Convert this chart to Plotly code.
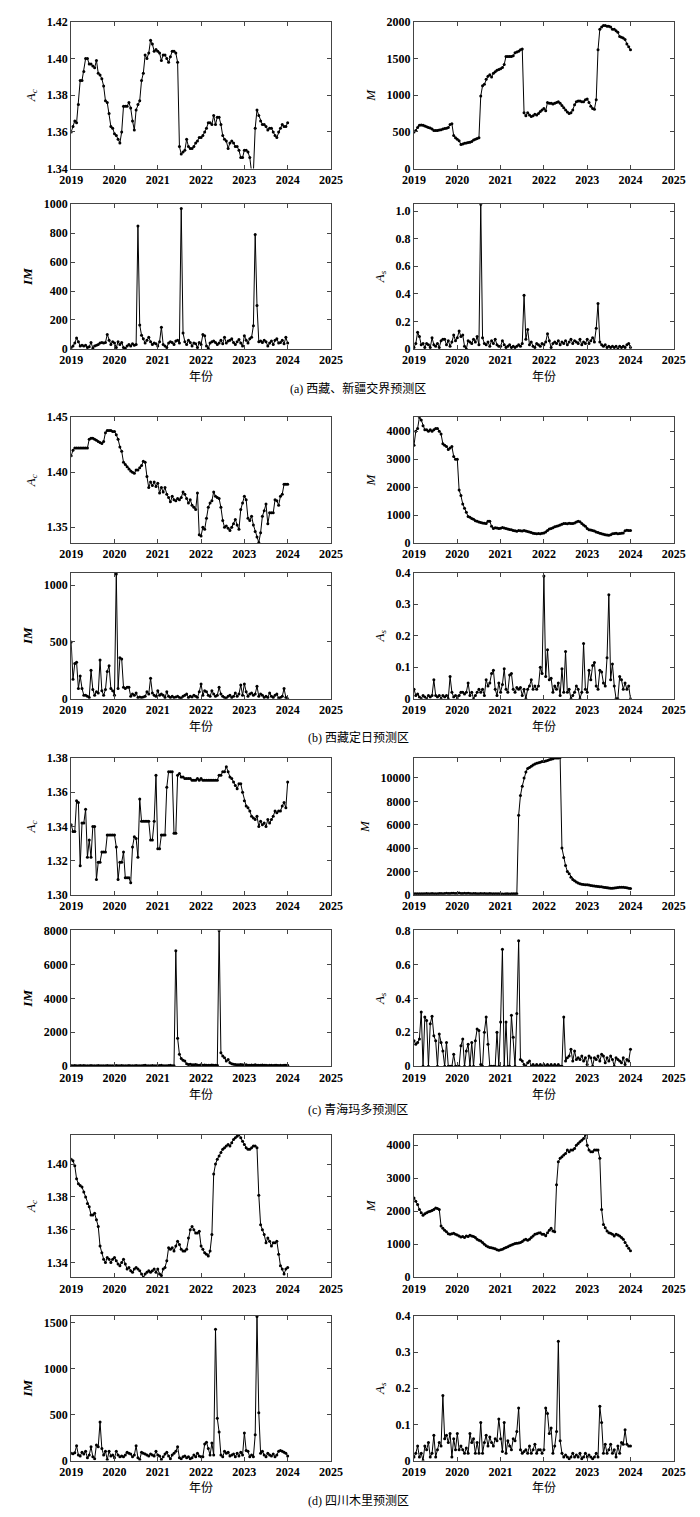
import plotly.graph_objects as go

# sampling grid: twice a month, 2019.0 .. 2024.0
t = [2019 + i / 24 for i in range(121)]

year_ticks = [2019, 2020, 2021, 2022, 2023, 2024, 2025]
year_text = ["2019", "2020", "2021", "2022", "2023", "2024", "2025"]

# ---------------- (a) 西藏、新疆交界预测区 ----------------
a_ac = [1.360, 1.363, 1.366, 1.365, 1.375, 1.388, 1.388, 1.393, 1.400, 1.400, 1.397, 1.397,
        1.396, 1.395, 1.399, 1.392, 1.391, 1.389, 1.385, 1.377, 1.376, 1.370, 1.363, 1.362,
        1.359, 1.358, 1.356, 1.354, 1.360, 1.374, 1.374, 1.374, 1.376, 1.373, 1.366, 1.361,
        1.372, 1.375, 1.377, 1.388, 1.392, 1.402, 1.400, 1.403, 1.410, 1.408, 1.404, 1.405,
        1.404, 1.403, 1.399, 1.402, 1.402, 1.400, 1.398, 1.401, 1.404, 1.404, 1.403, 1.398,
        1.352, 1.348, 1.349, 1.350, 1.356, 1.352, 1.351, 1.351, 1.352, 1.354, 1.355, 1.357,
        1.357, 1.358, 1.360, 1.362, 1.365, 1.365, 1.364, 1.369, 1.364, 1.368, 1.368, 1.364,
        1.358, 1.356, 1.355, 1.351, 1.354, 1.355, 1.354, 1.352, 1.352, 1.350, 1.346, 1.346,
        1.350, 1.350, 1.349, 1.346, 1.338, 1.338, 1.362, 1.372, 1.369, 1.366, 1.364, 1.364,
        1.363, 1.361, 1.362, 1.362, 1.360, 1.358, 1.357, 1.360, 1.362, 1.364, 1.363, 1.363,
        1.365]
a_m = [500, 520, 560, 590, 595, 590, 580, 570, 560, 555, 540, 520,
       520, 520, 525, 530, 540, 545, 550, 560, 600, 610, 450, 420,
       400, 380, 330, 335, 345, 350, 355, 360, 370, 390, 400, 410,
       420, 990, 1130, 1150, 1220, 1260, 1280, 1250, 1300, 1320, 1340, 1350,
       1360, 1380, 1420, 1530, 1530, 1530, 1530, 1540, 1580, 1590, 1600, 1620,
       1630, 760, 720, 760, 730, 710, 720, 740, 730, 750, 780, 800,
       820, 790, 900, 890, 890, 880, 890, 900, 910, 890, 860, 830,
       800, 770, 750, 760, 800, 870, 910, 920, 920, 910, 910, 940,
       950, 900, 850, 820, 810, 940, 1620, 1900, 1930, 1950, 1950, 1940,
       1940, 1930, 1900, 1900, 1880, 1860, 1800, 1790, 1780, 1760, 1700, 1660,
       1620]
a_im = [10, 20, 40, 75, 50, 20, 25, 20, 25, 10, 15, 45,
        5, 20, 25, 30, 40, 45, 40, 45, 100, 60, 30, 50,
        40, 10, 50, 30, 45, 10, 5, 20, 30, 20, 35, 25,
        30, 850, 165, 95, 70, 40, 60, 80, 50, 30, 40, 35,
        20, 50, 150, 30, 20, 10, 40, 50, 45, 30, 55, 60,
        40, 970, 110, 50, 30, 60, 45, 20, 40, 35, 10, 45,
        30, 100, 90, 20, 5, 40, 50, 55, 45, 30, 40, 60,
        35, 80, 40, 55, 60, 70, 45, 30, 50, 65, 40, 20,
        90, 60, 40, 70, 80, 160, 790, 300, 50, 55, 45, 60,
        50, 20, 40, 55, 30, 60, 70, 40, 45, 60, 35, 80,
        40]
a_as = [0.01, 0.04, 0.12, 0.09, 0.03, 0.04, 0.01, 0.04, 0.03, 0.01, 0.08, 0.03,
        0.02, 0.04, 0.01, 0.06, 0.07, 0.07, 0.03, 0.06, 0.02, 0.05, 0.10, 0.06,
        0.08, 0.13, 0.09, 0.10, 0.02, 0.00, 0.06, 0.05, 0.04, 0.07, 0.05, 0.09,
        0.03, 1.05, 0.08, 0.04, 0.03, 0.05, 0.02, 0.06, 0.04, 0.07, 0.03, 0.02,
        0.02, 0.06, 0.03, 0.01, 0.02, 0.03, 0.01, 0.02, 0.01, 0.02, 0.03, 0.02,
        0.04, 0.39, 0.07, 0.14, 0.03, 0.05, 0.02, 0.01, 0.04, 0.03, 0.02, 0.04,
        0.03, 0.05, 0.11, 0.06, 0.01, 0.04, 0.05, 0.04, 0.06, 0.03, 0.05, 0.04,
        0.06, 0.03, 0.05, 0.07, 0.04, 0.06, 0.05, 0.04, 0.07, 0.03, 0.05, 0.04,
        0.07, 0.04, 0.06, 0.08, 0.05, 0.15, 0.33, 0.05, 0.03, 0.02, 0.03, 0.01,
        0.02, 0.01, 0.02, 0.01, 0.02, 0.00, 0.02, 0.01, 0.02, 0.01, 0.03, 0.04,
        0.01]

# ---------------- (b) 西藏定日预测区 ----------------
b_ac = [1.415, 1.420, 1.422, 1.422, 1.422, 1.422, 1.422, 1.422, 1.422, 1.422, 1.430, 1.431,
        1.431, 1.430, 1.429, 1.428, 1.427, 1.426, 1.428, 1.436, 1.438, 1.438, 1.438, 1.437,
        1.437, 1.434, 1.430, 1.423, 1.419, 1.409, 1.407, 1.405, 1.403, 1.401, 1.400, 1.399,
        1.402, 1.402, 1.404, 1.406, 1.410, 1.409, 1.396, 1.386, 1.391, 1.388, 1.391, 1.387,
        1.390, 1.381, 1.386, 1.382, 1.386, 1.380, 1.377, 1.373, 1.378, 1.375, 1.374, 1.376,
        1.375, 1.377, 1.382, 1.380, 1.376, 1.372, 1.375, 1.370, 1.368, 1.366, 1.381, 1.343,
        1.342, 1.350, 1.348, 1.358, 1.368, 1.372, 1.374, 1.382, 1.378, 1.377, 1.376, 1.368,
        1.356, 1.350, 1.351, 1.349, 1.347, 1.350, 1.353, 1.357, 1.352, 1.348, 1.366, 1.372,
        1.378, 1.375, 1.358, 1.356, 1.360, 1.352, 1.346, 1.341, 1.336, 1.345, 1.360, 1.365,
        1.371, 1.353, 1.363, 1.363, 1.363, 1.375, 1.374, 1.370, 1.378, 1.380, 1.389, 1.389,
        1.389]
b_m = [3500, 4000, 4100, 4500, 4400, 4200, 4050, 4050, 4000, 4050, 4000, 4050,
       4100, 4100, 4000, 3900, 3550, 3500, 3450, 3350, 3400, 3450, 3100, 3000,
       3000, 1900, 1700, 1400, 1250, 1100, 950, 920, 880, 850, 800, 780,
       750, 740, 720, 710, 700, 780, 780, 600, 520, 550, 540, 520,
       530, 560, 540, 520, 500, 490, 480, 450, 440, 420, 450, 440,
       430, 450, 430, 410, 400, 380, 350, 340, 330, 340, 330, 350,
       360, 400, 450, 500, 520, 550, 580, 600, 620, 650, 670, 700,
       700, 690, 710, 700, 700, 720, 750, 780, 760, 700, 650, 600,
       520, 480, 470, 450, 430, 400, 380, 350, 330, 320, 300, 290,
       280, 300, 330, 340, 350, 330, 340, 350, 360, 440, 460, 450,
       450]
b_im = [500, 170, 310, 320, 90, 200, 90, 30, 30, 20, 10, 250,
        80, 30, 60, 50, 340, 70, 30, 80, 240, 290, 90, 70,
        30, 1100, 90, 360, 350, 100, 90, 100, 100, 20, 40, 30,
        50, 10, 15, 10, 15, 20, 60, 40, 180, 50, 30, 20,
        70, 30, 40, 30, 10, 60, 20, 10, 20, 10, 15, 20,
        10, 5, 20, 30, 40, 10, 20, 15, 30, 20, 10, 60,
        130, 30, 70, 60, 30, 20, 70, 40, 20, 30, 100, 40,
        20, 10, 5, 20, 30, 10, 20, 50, 20, 40, 120, 30,
        130, 60, 20, 40, 50, 30, 40, 110, 20, 40, 30, 10,
        20, 10, 50, 20, 10, 30, 40, 5, 10, 20, 90, 10,
        0]
b_as = [0.03, 0.01, 0.015, 0.005, 0.00, 0.01, 0.005, 0.00, 0.01, 0.005, 0.01, 0.06,
        0.01, 0.005, 0.01, 0.00, 0.01, 0.005, 0.01, 0.00, 0.07, 0.02, 0.005, 0.01,
        0.00, 0.01, 0.02, 0.02, 0.015, 0.02, 0.05, 0.01, 0.02, 0.00, 0.01, 0.02,
        0.03, 0.02, 0.03, 0.01, 0.06, 0.04, 0.05, 0.08, 0.09, 0.03, 0.01, 0.05,
        0.02, 0.045, 0.095, 0.03, 0.02, 0.075, 0.08, 0.03, 0.02, 0.035, 0.03, 0.035,
        0.01, 0.03, 0.00, 0.03, 0.04, 0.06, 0.03, 0.04, 0.03, 0.04, 0.10, 0.08,
        0.39, 0.07, 0.155, 0.06, 0.065, 0.02, 0.04, 0.03, 0.05, 0.01, 0.095, 0.02,
        0.15, 0.02, 0.03, 0.00, 0.01, 0.02, 0.04, 0.03, 0.00, 0.02, 0.175, 0.03,
        0.02, 0.09, 0.06, 0.105, 0.115, 0.04, 0.03, 0.09, 0.085, 0.05, 0.04, 0.13,
        0.33, 0.06, 0.11, 0.04, 0.00, 0.00, 0.07, 0.06, 0.03, 0.05, 0.03, 0.04,
        0.00]

# ---------------- (c) 青海玛多预测区 ----------------
c_ac = [1.341, 1.337, 1.337, 1.355, 1.354, 1.317, 1.342, 1.342, 1.350, 1.322, 1.332, 1.322,
        1.340, 1.340, 1.309, 1.319, 1.319, 1.325, 1.325, 1.325, 1.335, 1.335, 1.335, 1.335,
        1.335, 1.328, 1.309, 1.319, 1.319, 1.325, 1.310, 1.310, 1.310, 1.307, 1.328, 1.334,
        1.333, 1.322, 1.356, 1.343, 1.343, 1.343, 1.343, 1.343, 1.332, 1.332, 1.343, 1.370,
        1.327, 1.327, 1.335, 1.335, 1.335, 1.363, 1.372, 1.372, 1.372, 1.336, 1.336, 1.370,
        1.371, 1.369, 1.369, 1.368, 1.368, 1.368, 1.368, 1.367, 1.367, 1.367, 1.368, 1.367,
        1.368, 1.367, 1.367, 1.367, 1.367, 1.367, 1.367, 1.367, 1.367, 1.367, 1.370, 1.370,
        1.372, 1.372, 1.375, 1.372, 1.369, 1.368, 1.366, 1.364, 1.362, 1.365, 1.365, 1.360,
        1.355, 1.352, 1.351, 1.349, 1.346, 1.345, 1.344, 1.346, 1.340, 1.343, 1.341, 1.342,
        1.340, 1.344, 1.342, 1.344, 1.346, 1.349, 1.348, 1.349, 1.349, 1.352, 1.354, 1.351,
        1.366]
c_m = [100, 80, 90, 100, 80, 90, 100, 110, 90, 100, 120, 100,
       100, 90, 110, 120, 100, 110, 130, 120, 110, 130, 140, 120,
       130, 150, 120, 110, 130, 120, 140, 110, 100, 120, 110, 100,
       90, 110, 100, 120, 100, 90, 110, 100, 80, 100, 90, 80,
       90, 70, 60, 80, 90, 70, 80, 100, 90, 80, 6800, 8500,
       9300, 10000, 10500, 10800, 10900, 11000, 11100, 11200, 11250, 11300, 11350, 11400,
       11400, 11450, 11500, 11550, 11600, 11650, 11700, 11700, 11700, 11750, 4000, 3200,
       2500, 2000, 1800, 1500, 1300, 1200, 1100, 1000, 950, 900, 880, 860,
       850, 830, 800, 780, 760, 740, 720, 700, 680, 650, 620, 600,
       580, 570, 560, 580, 600, 630, 650, 640, 640, 620, 600, 560,
       550]
c_im = [40, 30, 40, 30, 20, 40, 30, 40, 30, 20, 30, 40,
        30, 20, 30, 40, 30, 30, 20, 30, 40, 30, 20, 30,
        30, 40, 20, 30, 40, 30, 20, 30, 40, 30, 20, 30,
        40, 30, 20, 30, 40, 50, 30, 20, 30, 40, 30, 20,
        30, 40, 60, 30, 20, 30, 40, 50, 30, 30, 6800, 1650,
        700, 450, 350, 300, 150, 100, 120, 90, 80, 100, 70, 60,
        80, 60, 70, 60, 50, 60, 70, 60, 50, 60, 8000, 800,
        600, 500, 300, 400, 200, 150, 120, 100, 90, 80, 100, 80,
        70, 80, 60, 50, 70, 60, 80, 60, 50, 60, 70, 50,
        60, 40, 50, 60, 40, 50, 60, 40, 50, 40, 60, 50,
        60]
c_as = [0.15, 0.13, 0.14, 0.16, 0.32, 0.00, 0.29, 0.27, 0.00, 0.25, 0.295, 0.18,
        0.15, 0.00, 0.19, 0.14, 0.09, 0.00, 0.14, 0.00, 0.00, 0.00, 0.07, 0.00,
        0.00, 0.00, 0.12, 0.16, 0.00, 0.09, 0.13, 0.00, 0.14, 0.00, 0.15, 0.22,
        0.21, 0.01, 0.00, 0.20, 0.29, 0.13, 0.00, 0.00, 0.00, 0.00, 0.20, 0.00,
        0.26, 0.69, 0.00, 0.26, 0.00, 0.00, 0.30, 0.17, 0.00, 0.31, 0.74, 0.04,
        0.03, 0.01, 0.00, 0.02, 0.03, 0.00, 0.01, 0.00, 0.01, 0.00, 0.01, 0.00,
        0.01, 0.00, 0.01, 0.00, 0.01, 0.00, 0.01, 0.00, 0.01, 0.00, 0.00, 0.29,
        0.03, 0.05, 0.06, 0.10, 0.03, 0.09, 0.04, 0.05, 0.04, 0.06, 0.03, 0.05,
        0.01, 0.06, 0.05, 0.00, 0.05, 0.04, 0.06, 0.03, 0.07, 0.06, 0.02, 0.05,
        0.03, 0.06, 0.04, 0.00, 0.05, 0.04, 0.03, 0.02, 0.05, 0.01, 0.04, 0.03,
        0.10]

# ---------------- (d) 四川木里预测区 ----------------
d_ac = [1.403, 1.402, 1.399, 1.391, 1.388, 1.387, 1.386, 1.383, 1.380, 1.376, 1.374, 1.369,
        1.369, 1.370, 1.366, 1.362, 1.350, 1.346, 1.342, 1.340, 1.343, 1.342, 1.340, 1.342,
        1.343, 1.341, 1.339, 1.338, 1.340, 1.342, 1.339, 1.336, 1.337, 1.335, 1.334, 1.336,
        1.337, 1.336, 1.335, 1.333, 1.331, 1.333, 1.334, 1.335, 1.334, 1.335, 1.336, 1.334,
        1.336, 1.333, 1.332, 1.336, 1.337, 1.341, 1.349, 1.348, 1.349, 1.347, 1.350, 1.353,
        1.351, 1.348, 1.347, 1.347, 1.348, 1.355, 1.360, 1.362, 1.360, 1.358, 1.358, 1.359,
        1.350, 1.348, 1.346, 1.345, 1.344, 1.347, 1.357, 1.394, 1.400, 1.403, 1.405, 1.407,
        1.409, 1.410, 1.411, 1.412, 1.411, 1.413, 1.415, 1.416, 1.417, 1.418, 1.416, 1.414,
        1.412, 1.410, 1.409, 1.409, 1.410, 1.411, 1.411, 1.410, 1.381, 1.363, 1.360, 1.357,
        1.352, 1.355, 1.353, 1.350, 1.352, 1.352, 1.353, 1.345, 1.338, 1.336, 1.333, 1.336,
        1.337]
d_m = [2400, 2300, 2200, 2050, 1950, 1880, 1920, 1950, 1980, 2000, 2020, 2050,
       2100, 2080, 2050, 1550, 1480, 1420, 1380, 1320, 1300, 1320, 1330, 1300,
       1280, 1250, 1220, 1230, 1200, 1250, 1230, 1270, 1250, 1230, 1200, 1150,
       1120, 1100, 1050, 1000, 950, 920, 900, 890, 880, 860, 830, 820,
       830, 850, 880, 900, 920, 950, 980, 1000, 1020, 1030, 1040, 1050,
       1080, 1130, 1150, 1120, 1150, 1200, 1250, 1300, 1320, 1340, 1350, 1300,
       1300, 1260, 1350, 1420, 1480, 1400, 1380, 2800, 3500, 3600, 3650, 3700,
       3750, 3850, 3800, 3850, 3850, 3900, 4000, 4050, 4100, 4150, 4200, 4320,
       4000, 3850, 3800, 3800, 3850, 3850, 3850, 3600, 2050, 1600, 1500, 1400,
       1350, 1330, 1300, 1250, 1300, 1280, 1250, 1200, 1150, 1050, 950, 880,
       800]
d_im = [80, 75, 85, 160, 60, 50, 90, 70, 100, 30, 60, 150,
        40, 20, 170, 150, 420, 130, 60, 100, 10, 100, 50, 60,
        30, 100, 60, 40, 50, 40, 60, 90, 80, 70, 40, 60,
        160, 30, 10, 90, 80, 70, 60, 50, 70, 60, 50, 100,
        60, 50, 10, 40, 70, 90, 50, 20, 60, 80, 100, 150,
        30, 20, 40, 50, 30, 40, 20, 30, 60, 40, 80, 50,
        40, 40, 180, 200, 130, 60, 190, 60, 1430, 460, 310, 60,
        40, 100, 80, 90, 50, 60, 70, 40, 80, 50, 90, 60,
        300, 110, 100, 40, 60, 40, 280, 1570, 520, 80, 100, 60,
        40, 80, 60, 50, 70, 40, 60, 100, 110, 100, 90, 80,
        50]
d_as = [0.01, 0.02, 0.04, 0.01, 0.02, 0.00, 0.04, 0.03, 0.05, 0.01, 0.02, 0.07,
        0.01, 0.03, 0.05, 0.04, 0.18, 0.06, 0.07, 0.05, 0.075, 0.01, 0.06, 0.03,
        0.075, 0.03, 0.04, 0.03, 0.02, 0.035, 0.02, 0.075, 0.05, 0.06, 0.02, 0.05,
        0.02, 0.105, 0.02, 0.05, 0.07, 0.04, 0.065, 0.05, 0.04, 0.06, 0.055, 0.115,
        0.06, 0.025, 0.105, 0.02, 0.055, 0.04, 0.03, 0.06, 0.055, 0.08, 0.145, 0.03,
        0.02, 0.025, 0.03, 0.02, 0.04, 0.02, 0.03, 0.045, 0.02, 0.03, 0.03, 0.02,
        0.03, 0.145, 0.13, 0.075, 0.09, 0.02, 0.04, 0.08, 0.33, 0.055, 0.02, 0.01,
        0.015, 0.01, 0.005, 0.01, 0.02, 0.01, 0.015, 0.01, 0.02, 0.005, 0.01, 0.02,
        0.01, 0.015, 0.01, 0.005, 0.01, 0.02, 0.01, 0.15, 0.105, 0.02, 0.045, 0.02,
        0.03, 0.045, 0.02, 0.03, 0.01, 0.04, 0.02, 0.05, 0.045, 0.085, 0.045, 0.04,
        0.04]

# y ticks per panel
ac_a_ticks = [1.34, 1.36, 1.38, 1.40, 1.42]
m_a_ticks = [0, 500, 1000, 1500, 2000]
im_a_ticks = [0, 200, 400, 600, 800, 1000]
as_a_ticks = [0, 0.2, 0.4, 0.6, 0.8, 1.0]
ac_b_ticks = [1.35, 1.40, 1.45]
m_b_ticks = [0, 1000, 2000, 3000, 4000]
im_b_ticks = [0, 500, 1000]
as_b_ticks = [0, 0.1, 0.2, 0.3, 0.4]
ac_c_ticks = [1.30, 1.32, 1.34, 1.36, 1.38]
m_c_ticks = [0, 2000, 4000, 6000, 8000, 10000]
im_c_ticks = [0, 2000, 4000, 6000, 8000]
as_c_ticks = [0, 0.2, 0.4, 0.6, 0.8]
ac_d_ticks = [1.34, 1.36, 1.38, 1.40]
m_d_ticks = [0, 1000, 2000, 3000, 4000]
im_d_ticks = [0, 500, 1000, 1500]
as_d_ticks = [0, 0.1, 0.2, 0.3, 0.4]

captions = ["(a) 西藏、新疆交界预测区", "(b) 西藏定日预测区",
            "(c) 青海玛多预测区", "(d) 四川木里预测区"]

AC = "<i>A<sub>c</sub></i>"
MM = "<i>M</i>"
IM = "<b><i>IM</i></b>"
AS = "<i>A<sub>s</sub></i>"

W, H = 700, 1517
# plot boxes in pixels: (top, bottom) for each row, (left, right) for each column
rows_px = [(7, 155), (191, 337), (406, 533), (563, 690),
           (750, 888), (924, 1061), (1130, 1274), (1313, 1459)]
cols_px = [(53, 322), (408, 677)]
xtitle_px = [364, 717, 1089, 1485]
caption_px = [377, 729, 1105, 1500]

def fmt(v, dec):
    if v == 0:
        return "0"
    return f"{v:.{dec}f}"

# (data, y range, ticks, decimals, title, row, col)
panels = [
    (a_ac, [1.34, 1.42], ac_a_ticks, 2, AC, 0, 0),
    (a_m, [0, 2000], m_a_ticks, 0, MM, 0, 1),
    (a_im, [0, 1000], im_a_ticks, 0, IM, 1, 0),
    (a_as, [0, 1.05], as_a_ticks, 1, AS, 1, 1),
    (b_ac, [1.3355, 1.45], ac_b_ticks, 2, AC, 2, 0),
    (b_m, [0, 4500], m_b_ticks, 0, MM, 2, 1),
    (b_im, [0, 1110], im_b_ticks, 0, IM, 3, 0),
    (b_as, [0, 0.4], as_b_ticks, 1, AS, 3, 1),
    (c_ac, [1.30, 1.38], ac_c_ticks, 2, AC, 4, 0),
    (c_m, [0, 11700], m_c_ticks, 0, MM, 4, 1),
    (c_im, [0, 8000], im_c_ticks, 0, IM, 5, 0),
    (c_as, [0, 0.8], as_c_ticks, 1, AS, 5, 1),
    (d_ac, [1.331, 1.418], ac_d_ticks, 2, AC, 6, 0),
    (d_m, [0, 4320], m_d_ticks, 0, MM, 6, 1),
    (d_im, [0, 1577], im_d_ticks, 0, IM, 7, 0),
    (d_as, [0, 0.4], as_d_ticks, 1, AS, 7, 1),
]

tick_font = dict(family="Liberation Serif", size=12, color="black", weight="bold")
axis_style = dict(showline=True, linecolor="#444", linewidth=1, mirror="ticks",
                  ticks="inside", ticklen=4, tickcolor="#444", showgrid=False,
                  zeroline=False, tickfont=tick_font)

fig = go.Figure()
layout = {}
for k, (ys, yr, yt, dec, title, r, c) in enumerate(panels):
    n = "" if k == 0 else str(k + 1)
    fig.add_trace(go.Scatter(x=t, y=ys, mode="lines+markers",
                             line=dict(color="black", width=1),
                             marker=dict(color="black", size=3),
                             xaxis="x" + n, yaxis="y" + n, showlegend=False))
    top, bot = rows_px[r]
    left, right = cols_px[c]
    layout["xaxis" + n] = dict(domain=[left / W, right / W], anchor="y" + n,
                               range=[2019, 2025], tickvals=year_ticks, ticktext=year_text,
                               **axis_style)
    layout["yaxis" + n] = dict(domain=[1 - bot / H, 1 - top / H], anchor="x" + n,
                               range=yr, tickvals=yt, ticktext=[fmt(v, dec) for v in yt],
                               title=dict(text=title, standoff=8,
                                          font=dict(family="Liberation Serif", size=13,
                                                    color="black")),
                               **axis_style)

annotations = []
for g in range(4):
    for c in range(2):
        left, right = cols_px[c]
        annotations.append(dict(text="年份", x=(left + right) / 2 / W, y=1 - xtitle_px[g] / H,
                                xref="paper", yref="paper", showarrow=False,
                                xanchor="center", yanchor="middle",
                                font=dict(family="Noto Sans CJK SC", size=12, color="black")))
    annotations.append(dict(text=captions[g], x=0.5, y=1 - caption_px[g] / H,
                            xref="paper", yref="paper", showarrow=False,
                            xanchor="center", yanchor="middle",
                            font=dict(family="Liberation Serif, Noto Sans CJK SC", size=12,
                                      color="black")))

fig.update_layout(width=W, height=H, margin=dict(l=0, r=0, t=0, b=0),
                  plot_bgcolor="white", paper_bgcolor="white",
                  annotations=annotations, **layout)

fig.write_html("out.html")
